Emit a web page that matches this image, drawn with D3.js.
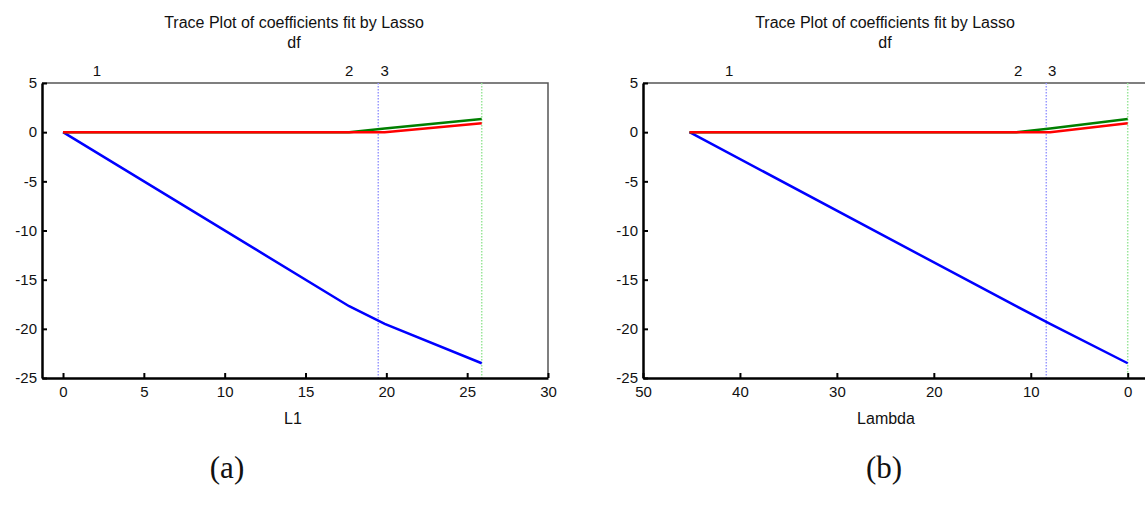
<!DOCTYPE html>
<html>
<head>
<meta charset="utf-8">
<script src="https://cdn.jsdelivr.net/npm/d3@7"></script>
<style>
  body { margin: 0; background: #fff; }
  svg text { font-family: "Liberation Sans", Arial, sans-serif; fill: #111; }
</style>
</head>
<body>
<svg id="vis" width="1145" height="506"></svg>
<script>
// coefficient paths (knots where a predictor enters)
var l1Knots = [0, 17.7, 19.9, 25.9];
var lambdaKnots = [45.2, 11.5, 8.0, 0];
var coef1 = [0, -17.7, -19.5, -23.5];
var coef2 = [0, 0, 0.37, 1.35];
var coef3 = [0, 0, 0, 0.9];

var l1Ticks = [0, 5, 10, 15, 20, 25, 30];
var lambdaTicks = [50, 40, 30, 20, 10, 0];
var yTicks = [5, 0, -5, -10, -15, -20, -25];

var dfLabels = ["1", "2", "3"];
var l1DfPos = [2.1, 17.7, 19.9];
var lambdaDfPos = [41.1, 11.3, 7.8];

var l1VLines = [19.5, 25.9];
var lambdaVLines = [8.4, 0];

var seriesColors = ["#0000ff", "#007f00", "#ff0000"];
var vlineColors = ["#9999ff", "#99e699"];

var vis = d3.select("#vis");

var drawPanel = function (opt) {
    var xScale = d3.scaleLinear().domain(opt.xDomain).range(opt.xRange),
        yScale = d3.scaleLinear().domain([-25, 5]).range([378, 83]),
        g = vis.append("g");
    var x0 = opt.xRange[0], x1 = opt.xRange[1], yTop = 83, yBot = 378;

    // box: thin grey top/right
    g.append("path")
        .attr("d", "M" + x0 + "," + yTop + "H" + x1 + "V" + yBot)
        .attr("fill", "none").attr("stroke", "#555").attr("stroke-width", 1.5);

    // dotted vertical markers
    opt.vlines.forEach(function (v, i) {
        g.append("line")
            .attr("x1", xScale(v)).attr("x2", xScale(v))
            .attr("y1", yTop).attr("y2", yBot)
            .attr("stroke", vlineColors[i]).attr("stroke-width", 1.5)
            .attr("stroke-dasharray", "1.5,1.5");
    });

    // coefficient traces
    var lineGen = d3.line()
        .x(function (d) { return xScale(d[0]); })
        .y(function (d) { return yScale(d[1]); });
    [coef1, coef2, coef3].forEach(function (c, i) {
        var pts = opt.knots.map(function (k, j) { return [k, c[j]]; });
        g.append("path")
            .attr("d", lineGen(pts))
            .attr("stroke", seriesColors[i])
            .attr("stroke-width", 2.5)
            .attr("fill", "none");
    });

    var fmt = function (d) { return String(d); }; // plain hyphen like the original
    var xAxis = d3.axisBottom(xScale).tickValues(opt.ticks).tickFormat(fmt)
        .tickSizeInner(-5).tickSizeOuter(0).tickPadding(8);
    var yAxis = d3.axisLeft(yScale).tickValues(yTicks).tickFormat(fmt)
        .tickSizeInner(-5).tickSizeOuter(0).tickPadding(5);
    var gx = g.append("g")
        .attr("class", "x axis")
        .attr("transform", "translate(0," + yBot + ")")
        .call(xAxis);
    var gy = g.append("g")
        .attr("class", "y axis")
        .attr("transform", "translate(" + x0 + ",0)")
        .call(yAxis);
    [gx, gy].forEach(function (a) {
        a.select(".domain").attr("stroke", "#000").attr("stroke-width", 2.5);
        a.selectAll(".tick line").attr("stroke", "#000").attr("stroke-width", 2);
        a.selectAll(".tick text").attr("font-size", 15).attr("font-family", "Liberation Sans, Arial, sans-serif").attr("fill", "#111");
    });

    // df labels on top
    g.selectAll(".df").data(dfLabels).enter().append("text")
        .attr("x", function (d, i) { return xScale(opt.dfPos[i]); })
        .attr("y", 76)
        .attr("text-anchor", "middle")
        .attr("font-size", 15)
        .text(function (d) { return d; });

    var cx = (x0 + x1) / 2;
    g.append("text").attr("x", opt.titleX).attr("y", 28).attr("text-anchor", "middle")
        .attr("font-size", 16).text("Trace Plot of coefficients fit by Lasso");
    g.append("text").attr("x", opt.titleX).attr("y", 48).attr("text-anchor", "middle")
        .attr("font-size", 16).text("df");
    g.append("text").attr("x", opt.labelX).attr("y", 424).attr("text-anchor", "middle")
        .attr("font-size", 16).text(opt.xLabel);
    g.append("text").attr("x", opt.capX).attr("y", 478).attr("text-anchor", "middle")
        .attr("font-size", 31).style("font-family", "Liberation Serif, Times New Roman, serif")
        .text(opt.caption);
};

drawPanel({
    xDomain: [-1.3, 30], xRange: [42, 548],
    knots: l1Knots, ticks: l1Ticks, dfPos: l1DfPos, vlines: l1VLines,
    titleX: 294, xLabel: "L1", labelX: 293, caption: "(a)", capX: 227
});
drawPanel({
    xDomain: [50, -2.3], xRange: [643, 1150],
    knots: lambdaKnots, ticks: lambdaTicks, dfPos: lambdaDfPos, vlines: lambdaVLines,
    titleX: 885, xLabel: "Lambda", labelX: 886, caption: "(b)", capX: 884
});
</script>
</body>
</html>
